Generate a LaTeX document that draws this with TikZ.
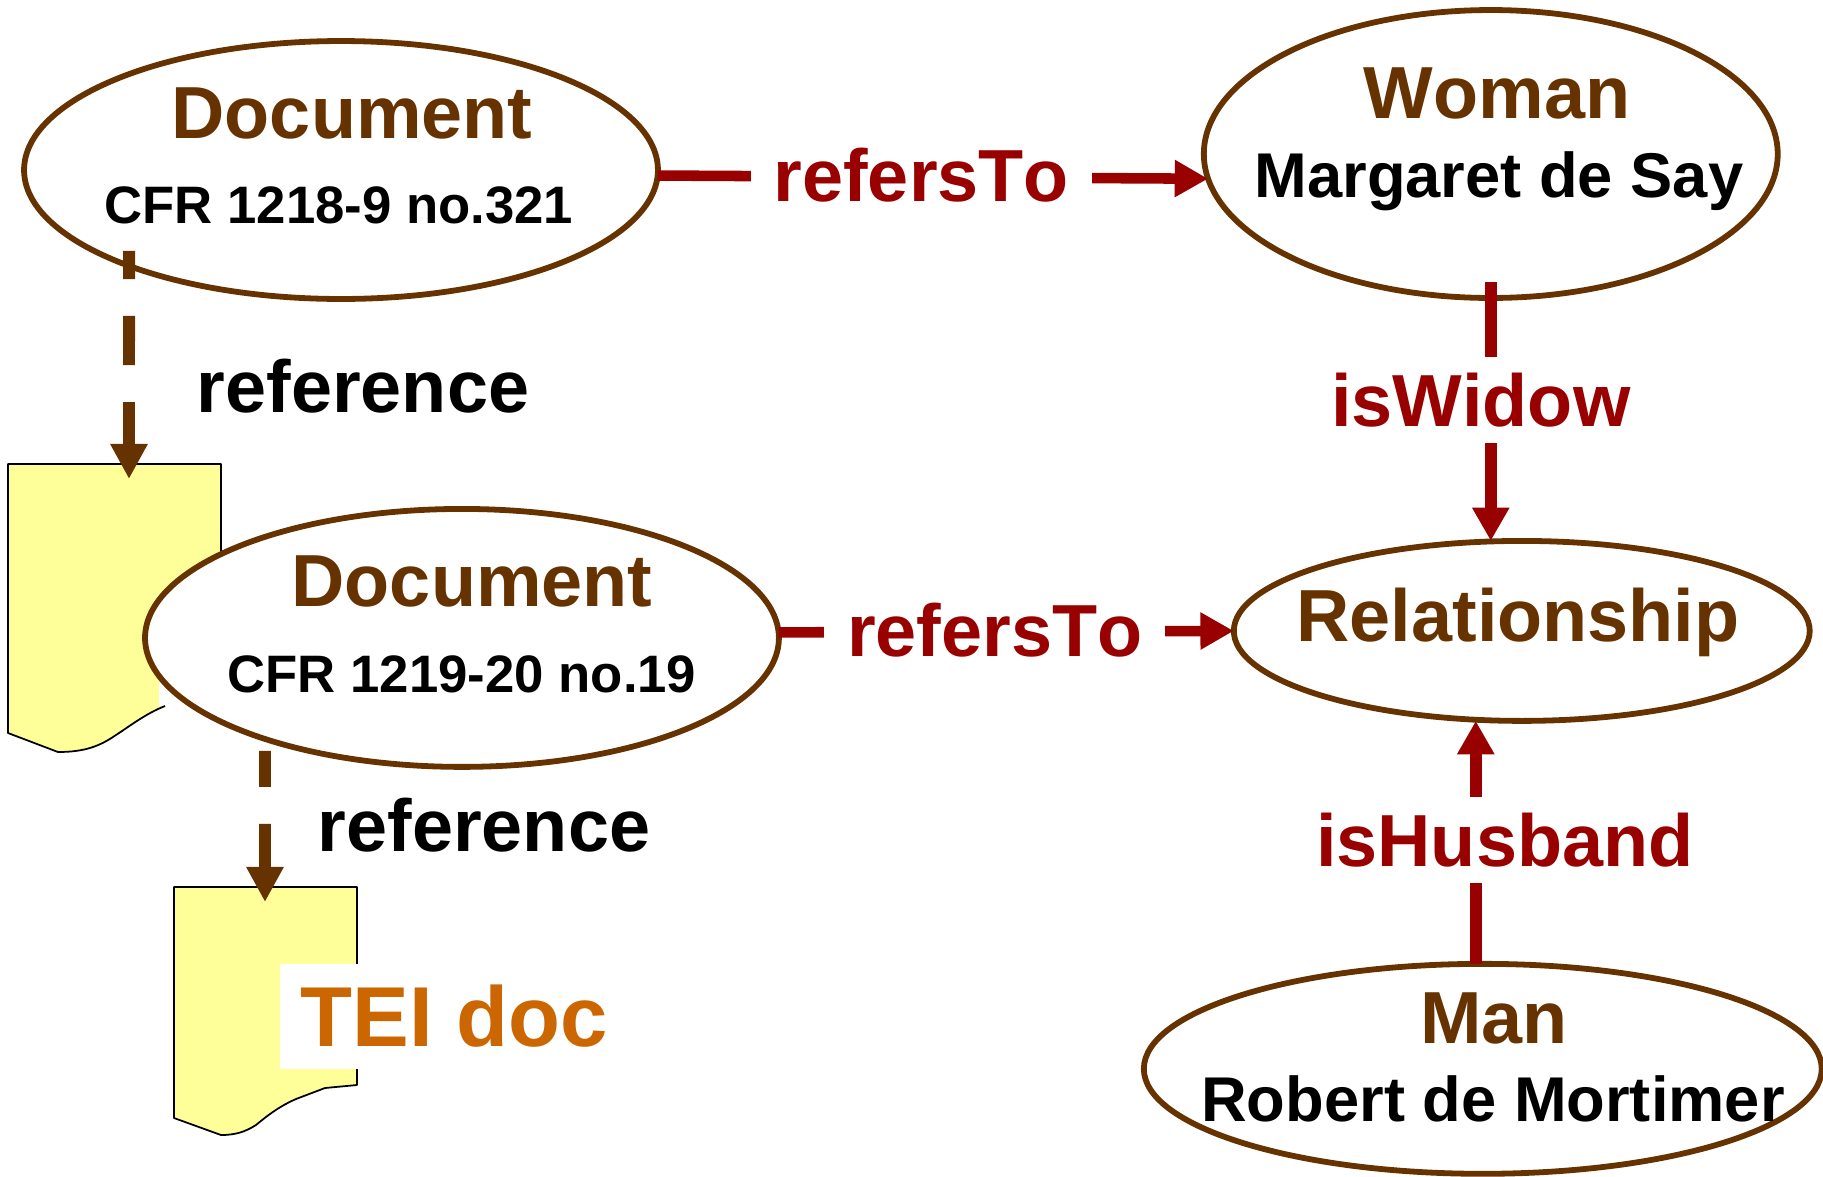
\documentclass[tikz,border=0pt]{standalone}
\usepackage{fontspec}
\setmainfont{Liberation Sans}[Kerning=Off]
\usetikzlibrary{arrows.meta,shapes.geometric,positioning}
\definecolor{entitybrown}{HTML}{663300}
\definecolor{relred}{HTML}{990000}
\definecolor{sheetyellow}{HTML}{FFFF99}
\definecolor{teiorange}{HTML}{CC6600}

\begin{document}
\begin{tikzpicture}[
            x=0.02cm, y=-0.02cm,
            entity/.style={ellipse, draw=entitybrown, fill=white, line width=3.3pt, inner sep=0pt, outer sep=0pt},
            title/.style={anchor=base, text=entitybrown, font=\fontsize{42}{50}\bfseries\selectfont},
            detail/.style={anchor=base, text=black, font=\fontsize{36}{44}\bfseries\selectfont},
            cfr/.style={anchor=base, text=black, font=\fontsize{30}{36}\bfseries\selectfont},
            reflabel/.style={anchor=base, text=black, font=\fontsize{42}{50}\bfseries\selectfont},
            rellabel/.style={fill=white, text=relred, inner ysep=9pt, inner xsep=13pt, font=\fontsize{42}{50}\bfseries\selectfont},
            sheet/.style={draw=black, line width=1pt, line join=round},
            refarrow/.style={draw=entitybrown, line width=6.8pt, -{Triangle[length=20pt,width=20pt]}},
            relarrow/.style={draw=relred, line width=6.8pt, -{Triangle[length=19pt,width=20pt]}}
        ]
            \useasboundingbox (0,0) rectangle (1823,1177);

            \fill[sheetyellow] (8,464) -- (221,464) -- (221,670) -- (159,670) -- (159,706) -- (165,706)
                .. controls (145,714) and (130,726) .. (116,735)
                .. controls (100,746) and (85,752) .. (58,752) -- (8,733) -- cycle;
            \draw[sheet] (221,600) -- (221,464) -- (8,464) -- (8,733) -- (58,752)
                .. controls (85,752) and (100,746) .. (116,735)
                .. controls (130,726) and (145,714) .. (165,706);
            \filldraw[sheet, fill=sheetyellow] (174,887) -- (357,887) -- (357,1085) -- (325,1088) -- (296,1099)
                .. controls (280,1106) and (268,1115) .. (256,1125)
                .. controls (245,1132) and (235,1135) .. (221,1135) -- (174,1118) -- cycle;
            \coordinate (docone) at (129,479);
            \coordinate (doctwo) at (265,902);

            \node[entity, minimum width=12.68cm, minimum height=5.16cm] (dcmone) at (341,170) {};
            \node[entity, minimum width=11.48cm, minimum height=5.76cm, right=10.92cm of dcmone, yshift=0.32cm] (woman) {};
            \node[entity, minimum width=12.68cm, minimum height=5.16cm, below=4.2cm of dcmone, xshift=2.42cm] (dcmtwo) {};
            \node[entity, minimum width=11.52cm, minimum height=3.6cm, right=9.1cm of dcmtwo, yshift=0.14cm] (rel) {};
            \node[entity, minimum width=13.56cm, minimum height=4.2cm, below=4.86cm of rel, xshift=-0.78cm] (man) {};

            \draw[refarrow, dash pattern=on 28pt off 21pt, dash phase=12pt] ([xshift=-4.24cm,yshift=0.96cm]dcmone.south) -- (docone);
            \draw[refarrow, dash pattern=on 28pt off 21pt, dash phase=7.5pt] ([xshift=-3.94cm,yshift=0.32cm]dcmtwo.south) -- (doctwo);
            \draw[relarrow, line width=6pt] (dcmone.-1.6) -- node[rellabel, pos=0.479, yshift=0.03cm] (refersone) {refersTo} (woman.185.5);
            \draw[relarrow, line width=6pt] (dcmtwo.1.4) -- node[rellabel, pos=0.475, yshift=0.04cm] (referstwo) {refersTo} (rel.west);
            \draw[relarrow] ([yshift=0.32cm]woman.south) -- node[rellabel, pos=0.455, xshift=-0.2cm] (iswidow) {isWidow} (woman.south |- rel.north);
            \draw[relarrow] ([xshift=-0.14cm]man.north) -- node[rellabel, pos=0.51, xshift=0.58cm] (ishusband) {isHusband} ([xshift=-0.14cm]man.north |- rel.south);

            \node[title] (dcmonetitle) at (352,138) {Document};
            \node[cfr] (dcmonecfr) at (339,223) {CFR 1218-9 no.321};
            \node[title] (womantitle) at (1497,118) {Woman};
            \node[detail] (womanname) at (1499,197) {Margaret de Say};
            \node[title] (dcmtwotitle) at (472,606) {Document};
            \node[cfr] (dcmtwocfr) at (462,692) {CFR 1219-20 no.19};
            \node[title] (reltitle) at (1518,641) {Relationship};
            \node[title] (mantitle) at (1494,1043) {Man};
            \node[detail] (manname) at (1493,1121) {Robert de Mortimer};
            \node[reflabel] (refone) at (363,412) {reference};
            \node[reflabel] (reftwo) at (484,851) {reference};
            \node[fill=white, anchor=west, inner xsep=11.4pt, minimum height=2.1cm, text=teiorange, font=\fontsize{48.4}{56}\bfseries\selectfont] (teidoc) at (280,1016) {TEI doc};
        \end{tikzpicture}
\end{document}
